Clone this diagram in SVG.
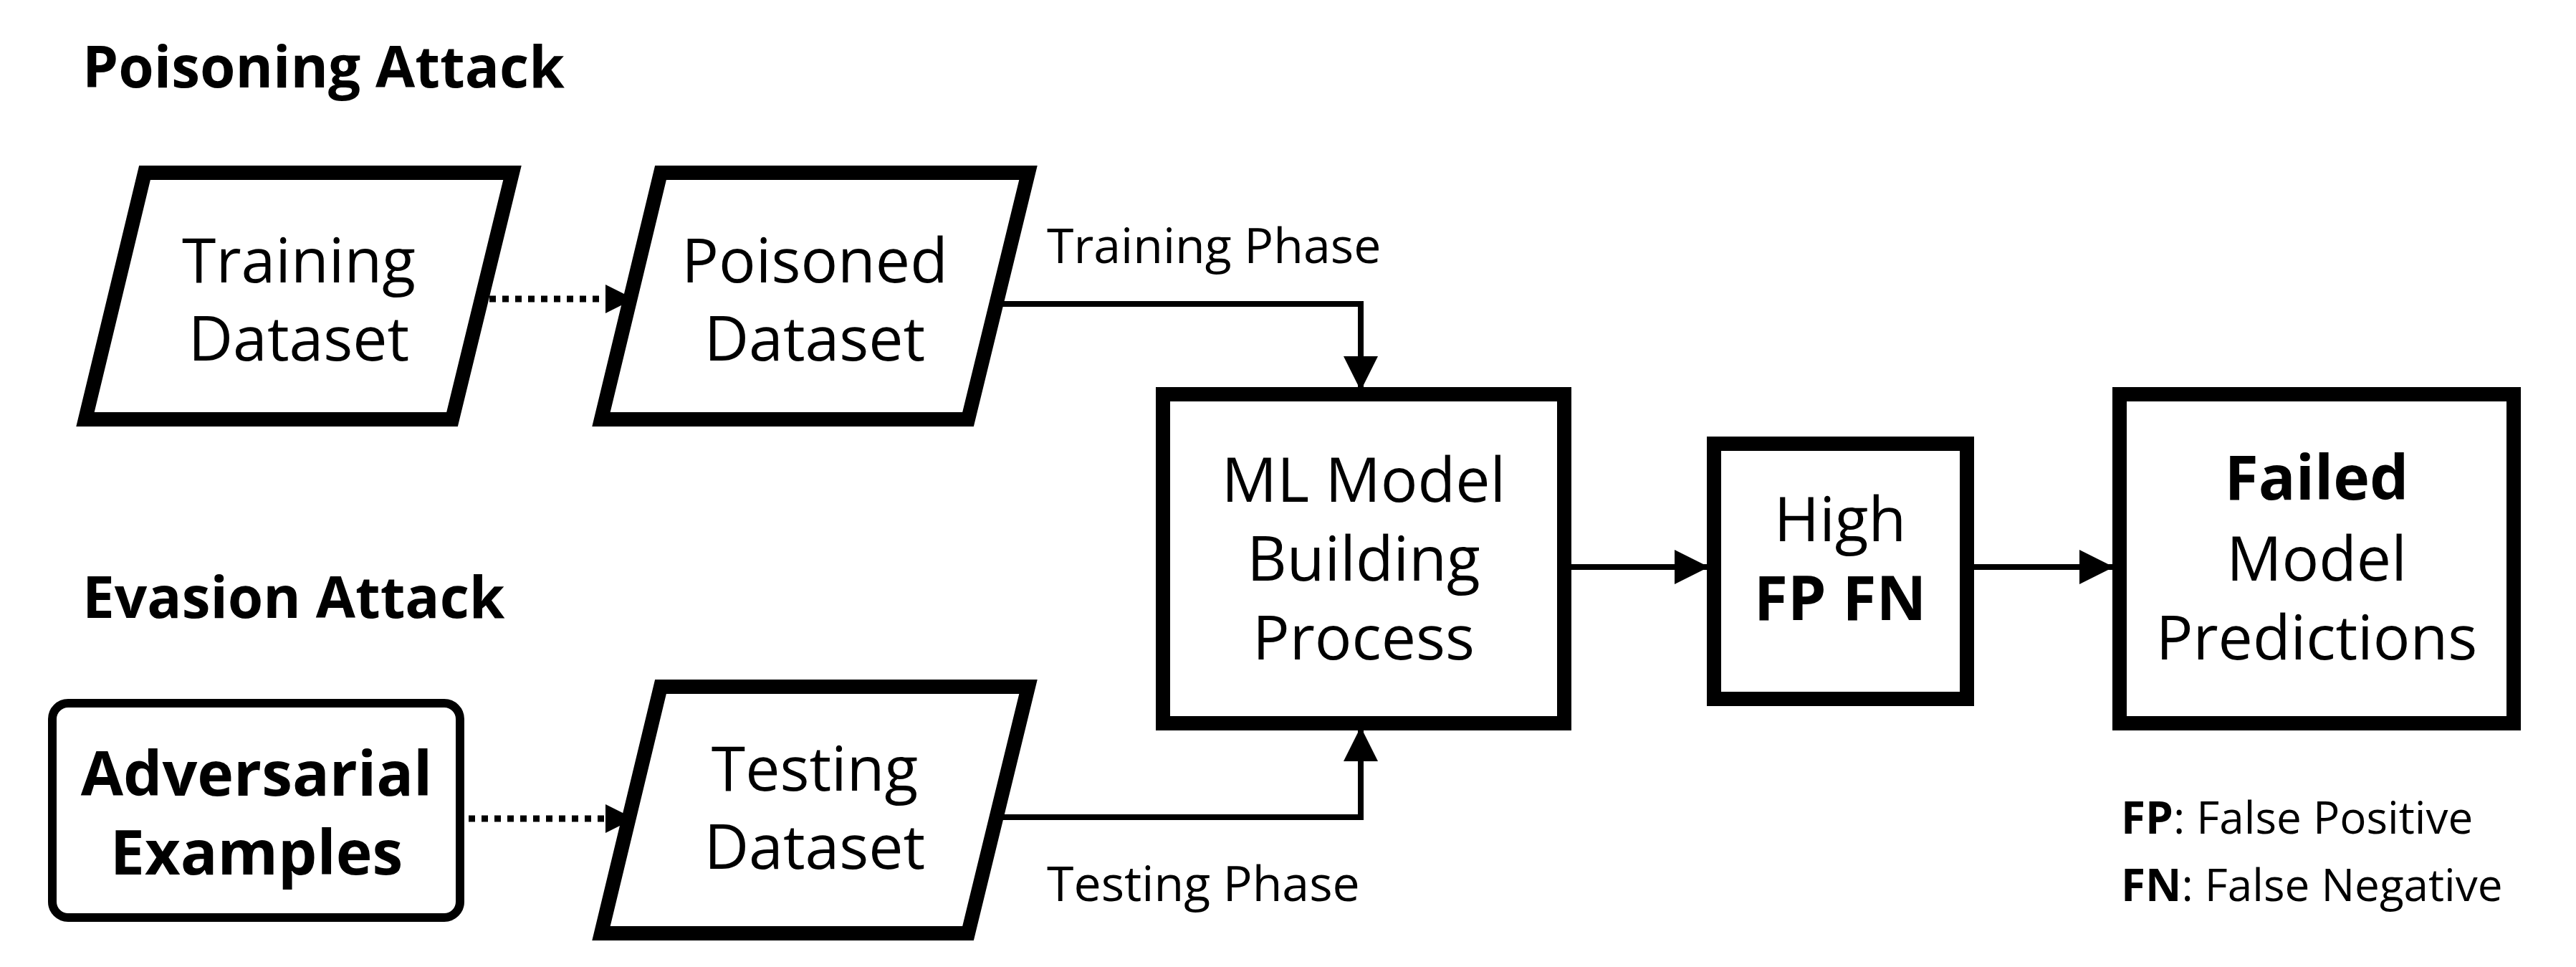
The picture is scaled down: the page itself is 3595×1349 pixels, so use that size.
<svg xmlns="http://www.w3.org/2000/svg" width="3595" height="1349" viewBox="0 0 3595 1349">
<style>
text{font-family:"Open Sans","Noto Sans","Liberation Sans",sans-serif;fill:#000}
.t{font-size:86px;text-anchor:middle}
.b{font-weight:bold}
.h{font-size:80px;font-weight:bold}
.lab{font-size:68px}
.leg{font-size:62px}
.shape{fill:#fff;stroke:#000;stroke-width:20;stroke-linejoin:miter}
.con{fill:none;stroke:#000;stroke-width:8}
.dot{fill:none;stroke:#000;stroke-width:9;stroke-dasharray:9 9}
</style>
<defs>
<marker id="ah" viewBox="0 0 10 10" refX="10" refY="5" markerWidth="6" markerHeight="7" markerUnits="strokeWidth" orient="auto">
<path d="M0,0 L10,5 L0,10 Z" fill="#000"/>
</marker>
<marker id="ahd" viewBox="0 0 10 10" refX="10" refY="5" markerWidth="4.5" markerHeight="6" markerUnits="strokeWidth" orient="auto">
<path d="M0,0 L10,5 L0,10 Z" fill="#000"/>
</marker>
</defs>
<rect width="3595" height="1349" fill="#fff"/>
<text class="h" x="115" y="122">Poisoning Attack</text>
<text class="h" x="115" y="862">Evasion Attack</text>
<g id="connectors">
<path class="dot" d="M665,417 H885" marker-end="url(#ahd)"/>
<path class="dot" d="M654,1142 H885" marker-end="url(#ahd)"/>
<path class="con" d="M1385,424 H1899 V545" marker-end="url(#ah)"/>
<path class="con" d="M1385,1140 H1899 V1014" marker-end="url(#ah)"/>
<path class="con" d="M2193,791 H2385" marker-end="url(#ah)"/>
<path class="con" d="M2755,791 H2950" marker-end="url(#ah)"/>
<text class="lab" x="1461" y="367">Training Phase</text>
<text class="lab" x="1461" y="1257">Testing Phase</text>
</g>
<g id="training">
<polygon class="shape" points="202,241 715,241 631,585 119,585"/>
<text class="t" x="417" y="394">Training</text>
<text class="t" x="417" y="503">Dataset</text>
</g>
<g id="poisoned">
<polygon class="shape" points="922,241 1435,241 1351,585 839,585"/>
<text class="t" x="1137" y="394">Poisoned</text>
<text class="t" x="1137" y="503">Dataset</text>
</g>
<g id="adversarial">
<rect class="shape" x="73" y="981" width="569" height="299" rx="22" style="stroke-width:12"/>
<text class="t b" x="358" y="1110">Adversarial</text>
<text class="t b" x="358" y="1220">Examples</text>
</g>
<g id="testing">
<polygon class="shape" points="922,958 1435,958 1351,1302 839,1302"/>
<text class="t" x="1137" y="1103">Testing</text>
<text class="t" x="1137" y="1212">Dataset</text>
</g>
<g id="ml">
<rect class="shape" x="1623" y="550" width="560" height="459"/>
<text class="t" x="1903" y="700">ML Model</text>
<text class="t" x="1903" y="810">Building</text>
<text class="t" x="1903" y="920">Process</text>
</g>
<g id="high">
<rect class="shape" x="2392" y="619" width="353" height="356"/>
<text class="t" x="2568" y="755">High</text>
<text class="t b" x="2568" y="865">FP FN</text>
</g>
<g id="failed">
<rect class="shape" x="2958" y="550" width="550" height="459"/>
<text class="t b" x="3233" y="697">Failed</text>
<text class="t" x="3233" y="810">Model</text>
<text class="t" x="3233" y="920">Predictions</text>
</g>
<g id="legend">
<text class="leg" x="2960" y="1163"><tspan class="b">FP</tspan>: False Positive</text>
<text class="leg" x="2960" y="1257"><tspan class="b">FN</tspan>: False Negative</text>
</g>
</svg>
